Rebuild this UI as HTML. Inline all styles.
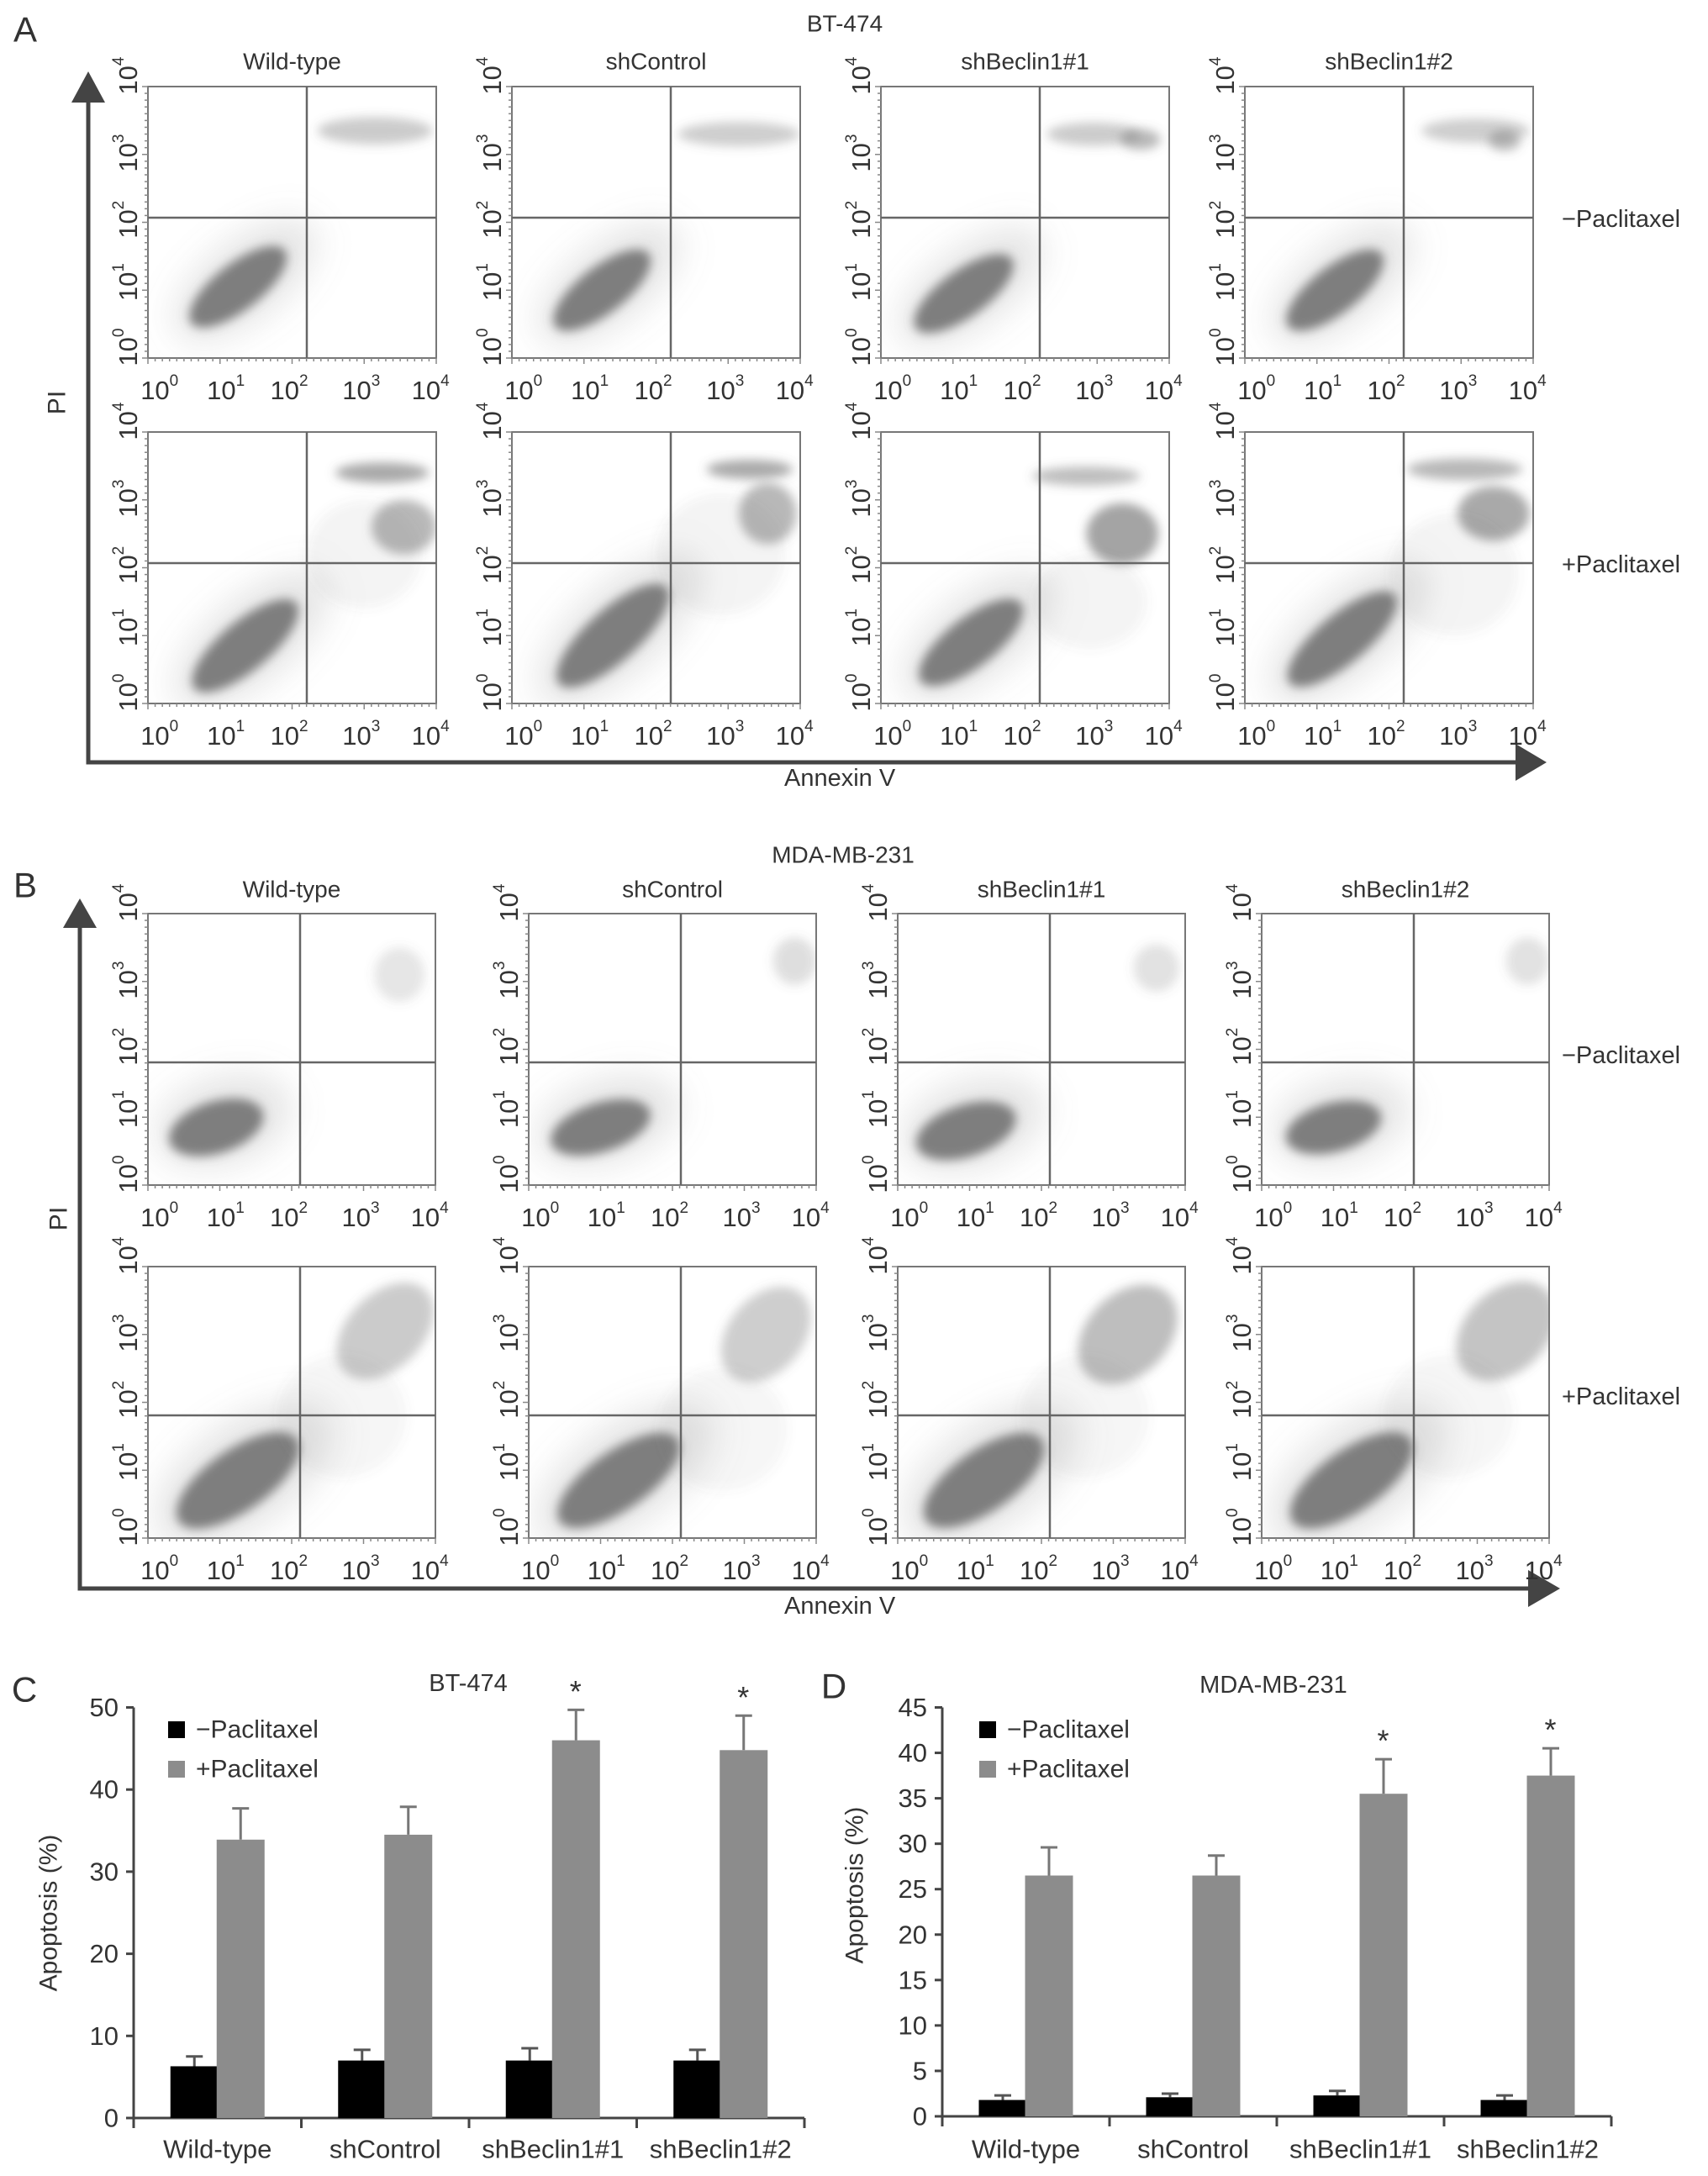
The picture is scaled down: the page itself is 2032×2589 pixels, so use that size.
<!DOCTYPE html>
<html><head><meta charset="utf-8"><title>Apoptosis flow cytometry</title>
<style>
html,body{margin:0;padding:0;background:#fff;}
svg{display:block;font-family:"Liberation Sans",Arial,sans-serif;}
</style></head>
<body>
<svg id="fig" width="2032" height="2589" viewBox="0 0 2032 2589" xmlns="http://www.w3.org/2000/svg">
<defs>
<filter id="blur6" x="-50%" y="-50%" width="200%" height="200%"><feGaussianBlur stdDeviation="6"/></filter>
<filter id="blur14" x="-50%" y="-50%" width="200%" height="200%"><feGaussianBlur stdDeviation="14"/></filter>
<filter id="blur20" x="-50%" y="-50%" width="200%" height="200%"><feGaussianBlur stdDeviation="20"/></filter>
</defs>
<g id="root"></g>
</svg>
<script>
// ---------- Flow cytometry data (cluster descriptions, in log decades 0-4) ----------
const fcColumns = ["Wild-type","shControl","shBeclin1#1","shBeclin1#2"];
const fcRows = ["\u2212Paclitaxel","+Paclitaxel"];
// each cluster: [xDecade, yDecade, rxDecade, ryDecade, angleDeg, opacity]
const clustersA = [
 [[[1.25,1.05,0.82,0.34,-38,0.95],[3.15,3.35,0.8,0.2,0,0.4]],
  [[1.25,1.0,0.82,0.34,-38,0.95],[3.15,3.3,0.85,0.18,0,0.38]],
  [[1.15,0.95,0.82,0.34,-36,0.95],[2.95,3.3,0.65,0.17,0,0.4],[3.6,3.22,0.28,0.15,0,0.55]],
  [[1.25,1.0,0.82,0.34,-38,0.95],[3.2,3.35,0.75,0.18,0,0.38],[3.6,3.2,0.22,0.15,0,0.5]]],
 [[[1.35,0.85,0.92,0.36,-40,0.95],[3.25,3.4,0.65,0.15,0,0.65],[3.55,2.6,0.45,0.4,0,0.55],[3.0,2.2,0.8,0.8,0,0.08]],
  [[1.4,1.0,1.0,0.38,-42,0.95],[3.3,3.45,0.6,0.14,0,0.65],[3.55,2.8,0.4,0.45,0,0.55],[2.9,2.2,0.9,0.9,0,0.08]],
  [[1.25,0.9,0.88,0.36,-38,0.95],[2.85,3.35,0.75,0.14,0,0.5],[3.35,2.5,0.5,0.45,0,0.7],[2.9,1.5,0.8,0.7,0,0.08]],
  [[1.35,0.95,0.95,0.36,-40,0.95],[3.05,3.45,0.8,0.16,0,0.55],[3.45,2.8,0.5,0.4,0,0.65],[2.9,1.9,0.9,0.9,0,0.08]]]
];
const clustersB = [
 [[[0.95,0.85,0.68,0.38,-18,0.95],[3.5,3.1,0.35,0.4,0,0.2]],
  [[1.0,0.85,0.72,0.36,-18,0.95],[3.7,3.3,0.3,0.35,0,0.25]],
  [[0.95,0.8,0.72,0.38,-18,0.95],[3.6,3.2,0.32,0.35,0,0.22]],
  [[1.0,0.85,0.68,0.36,-15,0.95],[3.7,3.3,0.3,0.35,0,0.22]]],
 [[[1.25,0.85,1.0,0.45,-35,0.95],[3.3,3.05,0.8,0.55,-45,0.4],[2.7,1.8,0.9,0.9,0,0.07]],
  [[1.25,0.85,1.0,0.43,-35,0.95],[3.3,3.0,0.75,0.55,-50,0.38],[2.7,1.6,0.9,0.9,0,0.07]],
  [[1.2,0.85,0.98,0.45,-35,0.95],[3.2,3.0,0.8,0.6,-45,0.5],[2.6,1.8,0.9,0.9,0,0.07]],
  [[1.25,0.85,1.0,0.45,-35,0.95],[3.4,3.05,0.8,0.6,-45,0.45],[2.6,1.8,0.9,0.9,0,0.07]]]
];
const xTickDecades = [0,1,2,3,4];
const yTickDecades = [0,1,2,3,4];
const xTickFrac = [0.04,0.27,0.49,0.74,0.98];
const yTickFrac = [0.04,0.28,0.51,0.755,1.04];

// ---------- Bar chart data ----------
const barCategories = ["Wild-type","shControl","shBeclin1#1","shBeclin1#2"];
const cMinus = [6.3,7.0,7.0,7.0];
const cMinusErr = [1.2,1.3,1.5,1.3];
const cPlus = [33.9,34.5,46.0,44.8];
const cPlusErr = [3.8,3.4,3.7,4.2];
const cStar = [false,false,true,true];
const cTicks = [0,10,20,30,40,50];
const dMinus = [1.8,2.1,2.3,1.8];
const dMinusErr = [0.5,0.4,0.5,0.5];
const dPlus = [26.5,26.5,35.5,37.5];
const dPlusErr = [3.1,2.2,3.8,3.0];
const dStar = [false,false,true,true];
const dTicks = [0,5,10,15,20,25,30,35,40,45];

const NS="http://www.w3.org/2000/svg";
const root=document.getElementById('root');
function mk(tag,attrs,parent){const e=document.createElementNS(NS,tag);for(const k in attrs)e.setAttribute(k,attrs[k]);(parent||root).appendChild(e);return e;}
function txt(s,attrs,parent){const e=mk('text',attrs,parent);e.textContent=s;return e;}
function pow10(d,attrs,parent){const e=mk('text',attrs,parent);const a=document.createElementNS(NS,'tspan');a.textContent='10';e.appendChild(a);const b=document.createElementNS(NS,'tspan');b.setAttribute('dy','-11');b.setAttribute('font-size','19');b.textContent=String(d);e.appendChild(b);return e;}

const TXT='#333';
function label(s,x,y,size,name,anchor,rot){
  const t=txt(s,{x:x,y:y,'font-size':size,fill:TXT,'text-anchor':anchor||'middle','dominant-baseline':'central',transform:rot?`rotate(-90 ${x} ${y})`:''});
  
  
  return t;
}

function drawPanel(cfg){
  const g=mk('g',{});
  
  
  const ax=mk('path',{d:`M${cfg.axX},${cfg.arrowBase} L${cfg.axX},${cfg.axY} L${cfg.arrowRightBase},${cfg.axY}`,stroke:'#444','stroke-width':5,fill:'none'},g);
  
  
  const ah=mk('polygon',{points:`${cfg.axX-20},${cfg.arrowBase} ${cfg.axX+20},${cfg.arrowBase} ${cfg.axX},${cfg.arrowTip}`,fill:'#444'},g);
  
  
  const ah2=mk('polygon',{points:`${cfg.arrowRightBase},${cfg.axY-22} ${cfg.arrowRightBase},${cfg.axY+22} ${cfg.arrowRightTip},${cfg.axY}`,fill:'#444'},g);
  
  
  label(cfg.letter,cfg.letterX,cfg.letterY,42,'panel-letter','middle');
  label(cfg.title,cfg.titleX,cfg.titleY,28,'panel-title','middle');
  label('PI',cfg.piX,cfg.piY,30,'y-axis-title','middle',true);
  label('Annexin V',cfg.annX,cfg.annY,29,'x-axis-title','start');
  fcRows.forEach((r,ri)=>label(r,1858,cfg.rowLabelY[ri],29,'row-label','start'));
  fcColumns.forEach((c,ci)=>{
    label(c,cfg.lefts[ci]+cfg.w/2,cfg.colTitleY,28,'column-title','middle');
    fcRows.forEach((r,ri)=>{
      const L=cfg.lefts[ci],T=cfg.tops[ri],W=cfg.w,H=cfg.h;
      const pg=mk('g',{},g);
      
      
      const xs=d=>L+d/4*W, ys=d=>T+H-d/4*H;
      const clip=mk('clipPath',{id:`clip-${cfg.letter}-${ci}-${ri}`},pg);
      mk('rect',{x:L,y:T,width:W,height:H},clip);
      const cg=mk('g',{'clip-path':`url(#clip-${cfg.letter}-${ci}-${ri})`},pg);
      cfg.clusters[ri][ci].forEach((cl,idx)=>{
        const [cx,cy,rx,ry,ang,op]=cl;
        const big=rx*W/4>120;
        if(idx===0){
          const h=mk('ellipse',{cx:xs(cx+0.1),cy:ys(cy+0.1),rx:rx*W/4*1.45,ry:ry*H/4*1.7,transform:`rotate(${ang} ${xs(cx+0.1)} ${ys(cy+0.1)})`,fill:'#888','fill-opacity':0.22,filter:'url(#blur20)'},cg);
          
          
        }
        const e=mk('ellipse',{cx:xs(cx),cy:ys(cy),rx:rx*W/4,ry:ry*H/4,transform:`rotate(${ang} ${xs(cx)} ${ys(cy)})`,fill:'#666','fill-opacity':op*0.85,filter:big?'url(#blur20)':'url(#blur6)'},cg);
        
        
      });
      const fr=mk('rect',{x:L,y:T,width:W,height:H,fill:'none',stroke:'#777','stroke-width':2},pg);
      
      
      const qv=mk('line',{x1:L+cfg.qx,x2:L+cfg.qx,y1:T,y2:T+H,stroke:'#666','stroke-width':2.5},pg);
      
      
      const qh=mk('line',{x1:L,x2:L+W,y1:T+cfg.qy,y2:T+cfg.qy,stroke:'#666','stroke-width':2.5},pg);
      
      
      for(let k=0;k<=40;k++){
        const tx=L+k*W/40;
        mk('line',{x1:tx,x2:tx,y1:T+H,y2:T+H+(k%10===0?7:4),stroke:'#888','stroke-width':1.5},pg);
        const ty=T+k*H/40;
        mk('line',{x1:L,x2:L-(k%10===0?7:4),y1:ty,y2:ty,stroke:'#888','stroke-width':1.5},pg);
      }
      xTickDecades.forEach((d,k)=>{
        const t=pow10(d,{x:L+xTickFrac[k]*W,y:T+H+38,'font-size':31,fill:TXT,'text-anchor':'middle','dominant-baseline':'central'},pg);
        
        
      });
      yTickDecades.forEach((d,k)=>{
        const yy=T+H-yTickFrac[k]*H, xx=L-24;
        const t=pow10(d,{x:xx,y:yy,'font-size':31,fill:TXT,'text-anchor':'middle','dominant-baseline':'central',transform:`rotate(-90 ${xx} ${yy})`},pg);
        
        
      });
    });
  });
}

drawPanel({name:'panel-a-bt474',letter:'A',letterX:30,letterY:35,title:'BT-474',titleX:1005,titleY:28,
  axX:105,axY:907,arrowTip:85,arrowBase:122,arrowRightBase:1803,arrowRightTip:1840,
  piX:68,piY:479,annX:933,annY:926,rowLabelY:[261,672],colTitleY:73,
  lefts:[176,609,1048,1481],tops:[103,514],w:343,h:323,qx:189,qy:156,clusters:clustersA});
drawPanel({name:'panel-b-mda-mb-231',letter:'B',letterX:30,letterY:1053,title:'MDA-MB-231',titleX:1003,titleY:1017,
  axX:95,axY:1890,arrowTip:1069,arrowBase:1104,arrowRightBase:1818,arrowRightTip:1856,
  piX:70,piY:1450,annX:933,annY:1911,rowLabelY:[1256,1662],colTitleY:1058,
  lefts:[176,629,1068,1501],tops:[1087,1507],w:342,h:323,qx:181,qy:177,clusters:clustersB});

function drawBars(cfg){
  const g=mk('g',{});
  
  
  const yS=v=>cfg.y0-(v/cfg.vmax)*(cfg.y0-cfg.yTop);
  const catW=(cfg.xEnd-cfg.axX)/barCategories.length;
  label(cfg.letter,cfg.letterX,cfg.letterY,42,'panel-letter','middle');
  label(cfg.title,cfg.titleX,cfg.titleY,29,'chart-title','middle');
  label('Apoptosis (%)',cfg.ylX,cfg.ylY,30,'y-axis-title','middle',true);
  const ya=mk('line',{x1:cfg.axX,x2:cfg.axX,y1:yS(cfg.ticks[cfg.ticks.length-1]),y2:cfg.y0,stroke:'#444','stroke-width':3},g);
  
  
  const xa=mk('line',{x1:cfg.axX,x2:cfg.xEnd,y1:cfg.y0,y2:cfg.y0,stroke:'#444','stroke-width':3},g);
  
  
  cfg.ticks.forEach(t=>{
    mk('line',{x1:cfg.axX-9,x2:cfg.axX,y1:yS(t),y2:yS(t),stroke:'#444','stroke-width':3},g);
    const l=txt(String(t),{x:cfg.axX-18,y:yS(t),'font-size':31,fill:TXT,'text-anchor':'end','dominant-baseline':'central'},g);
    
    
  });
  for(let k=0;k<=barCategories.length;k++){
    mk('line',{x1:cfg.axX+k*catW,x2:cfg.axX+k*catW,y1:cfg.y0,y2:cfg.y0+12,stroke:'#444','stroke-width':3},g);
  }
  barCategories.forEach((c,i)=>{
    const cx=cfg.axX+catW*(i+0.5);
    const l=txt(c,{x:cx,y:cfg.catY,'font-size':31,fill:TXT,'text-anchor':'middle','dominant-baseline':'central'},g);
    
    
    const series=[[cfg.minus[i],cfg.minusErr[i],'#000',cx-56,'bar-minus-paclitaxel'],[cfg.plus[i],cfg.plusErr[i],'#8c8c8c',cx-1,'bar-plus-paclitaxel']];
    series.forEach(([v,e,col,x,nm])=>{
      const bw=57, mid=x+bw/2;
      const eb=mk('path',{d:`M${mid},${yS(v)} L${mid},${yS(v+e)} M${mid-10},${yS(v+e)} L${mid+10},${yS(v+e)}`,stroke:col==='#000'?'#555':'#777','stroke-width':3,fill:'none'},g);
      
      
      const r=mk('rect',{x:x,y:yS(v),width:bw,height:cfg.y0-yS(v),fill:col},g);
      
      
    });
    if(cfg.star[i]){
      const s=txt('*',{x:cx+27,y:yS(cfg.plus[i]+cfg.plusErr[i])-22,'font-size':36,fill:TXT,'text-anchor':'middle','dominant-baseline':'central'},g);
      
      
    }
  });
  [['\u2212Paclitaxel','#000',2058],['+Paclitaxel','#8c8c8c',2105]].forEach(([s,col,yy])=>{
    const sw=mk('rect',{x:cfg.legX,y:yy-10,width:20,height:20,fill:col},g);
    
    
    const l=txt(s,{x:cfg.legX+33,y:yy,'font-size':30,fill:TXT,'dominant-baseline':'central'},g);
    
    
  });
}
drawBars({name:'panel-c-bt474-bar-chart',letter:'C',letterX:29,letterY:2010,title:'BT-474',titleX:557,titleY:2003,
  ylX:58,ylY:2276,axX:159,xEnd:957,y0:2520,yTop:2031.5,vmax:50,ticks:cTicks,catY:2557,legX:200,
  minus:cMinus,minusErr:cMinusErr,plus:cPlus,plusErr:cPlusErr,star:cStar});
drawBars({name:'panel-d-mda-bar-chart',letter:'D',letterX:992,letterY:2006,title:'MDA-MB-231',titleX:1515,titleY:2005,
  ylX:1017,ylY:2243,axX:1121,xEnd:1917,y0:2518,yTop:2031.5,vmax:45,ticks:dTicks,catY:2557,legX:1165,
  minus:dMinus,minusErr:dMinusErr,plus:dPlus,plusErr:dPlusErr,star:dStar});
</script>
</body></html>
